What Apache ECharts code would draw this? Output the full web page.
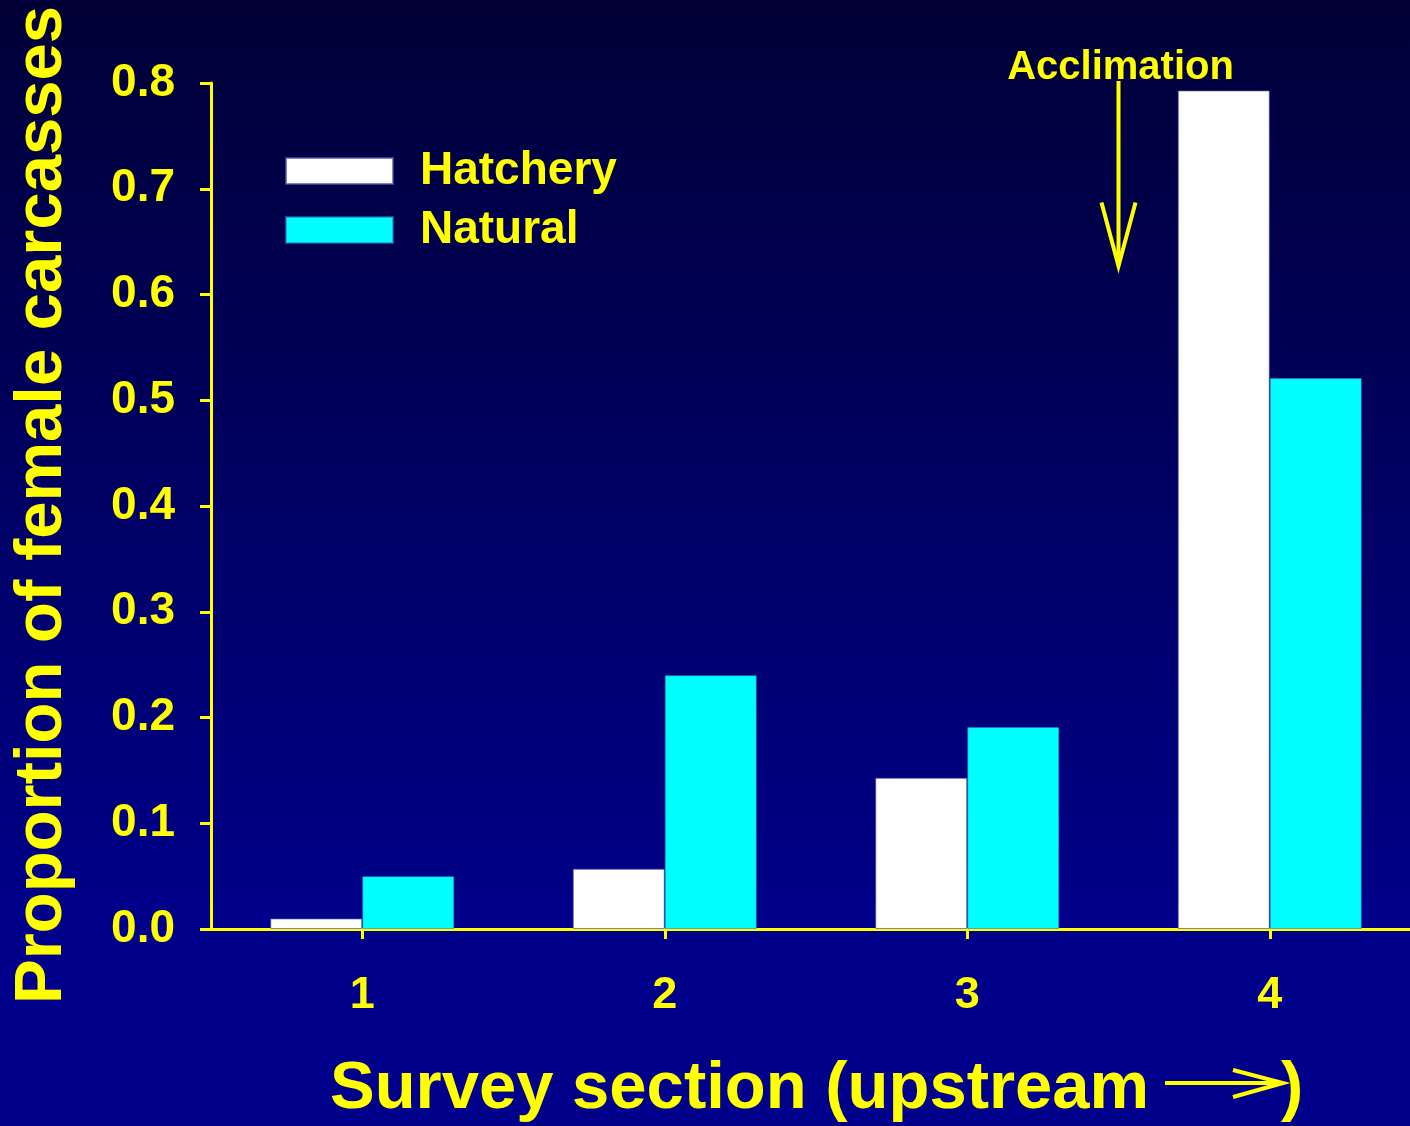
<!DOCTYPE html>
<html>
<head>
<meta charset="utf-8">
<script src="https://cdn.jsdelivr.net/npm/echarts@6/dist/echarts.min.js"></script>
<style>
html,body{margin:0;padding:0;background:#00008b;overflow:hidden;}
#main{width:1421px;height:1126px;}
</style>
</head>
<body>
<div id="main"></div>
<script>
const categories = ['1', '2', '3', '4'];
const hatchery = [0.010, 0.057, 0.143, 0.793];
const natural = [0.050, 0.240, 0.191, 0.521];
const yTicks = [0, 0.1, 0.2, 0.3, 0.4, 0.5, 0.6, 0.7, 0.8];

const YELLOW = '#FFFF00';
const FONT = '"Liberation Sans", Arial, sans-serif';

const chart = echarts.init(document.getElementById('main'), null, {renderer: 'canvas'});

const option = {
  animation: false,
  backgroundColor: {
    type: 'linear', x: 0, y: 0, x2: 0, y2: 1,
    colorStops: [
      {offset: 0, color: '#000036'},
      {offset: 0.82, color: '#00008a'},
      {offset: 1, color: '#00008b'}
    ]
  },
  grid: {left: 211, top: 83, right: 0, bottom: 197, containLabel: false},
  legend: {
    orient: 'vertical',
    left: 285,
    top: 144,
    padding: 0,
    itemWidth: 107,
    itemHeight: 26,
    itemGap: 5,
    icon: 'rect',
    textStyle: {
      color: YELLOW, fontSize: 46, fontWeight: 'bold', fontFamily: FONT,
      lineHeight: 46, padding: [8, 0, 0, 22]
    },
    data: ['Hatchery', 'Natural']
  },
  xAxis: {
    type: 'category',
    data: categories,
    axisLine: {show: true, lineStyle: {color: YELLOW, width: 3}},
    axisTick: {show: true, alignWithLabel: true, length: 10, lineStyle: {color: YELLOW, width: 3}},
    axisLabel: {color: YELLOW, fontSize: 45, fontWeight: 'bold', fontFamily: FONT, margin: 44},
    splitLine: {show: false}
  },
  yAxis: {
    type: 'value',
    min: yTicks[0],
    max: yTicks[yTicks.length - 1],
    interval: 0.1,
    axisLine: {show: true, lineStyle: {color: YELLOW, width: 3}},
    axisTick: {show: true, length: 11, lineStyle: {color: YELLOW, width: 3}},
    axisLabel: {
      color: YELLOW, fontSize: 46, fontWeight: 'bold', fontFamily: FONT, margin: 36,
      formatter: v => v.toFixed(1)
    },
    splitLine: {show: false}
  },
  series: [
    {
      name: 'Hatchery', type: 'bar', data: hatchery,
      barWidth: 92, barGap: '0%',
      itemStyle: {color: '#FFFFFF', borderColor: 'rgba(80,80,170,0.7)', borderWidth: 1}
    },
    {
      name: 'Natural', type: 'bar', data: natural,
      barWidth: 92, barGap: '0%',
      itemStyle: {color: '#00FFFF', borderColor: 'rgba(40,120,200,0.6)', borderWidth: 1}
    }
  ]
};
chart.setOption(option);

// Annotation: Acclimation arrow placed between sections 3 and 4
const p3 = chart.convertToPixel({xAxisIndex: 0}, 2);
const p4 = chart.convertToPixel({xAxisIndex: 0}, 3);
const ax = (p3 + p4) / 2;
const yTop = chart.convertToPixel({yAxisIndex: 0}, 0.8);
const yTip = chart.convertToPixel({yAxisIndex: 0}, 0.627);
const yArm = chart.convertToPixel({yAxisIndex: 0}, 0.687);

chart.setOption({
  graphic: [
    {
      type: 'text',
      x: ax + 2, y: yTop - 15,
      style: {
        text: 'Acclimation', fill: YELLOW, font: 'bold 40px ' + FONT,
        textAlign: 'center', textVerticalAlign: 'middle'
      }
    },
    {
      type: 'polyline',
      shape: {points: [[ax, yTop - 2], [ax, yTip]]},
      style: {stroke: YELLOW, lineWidth: 4, fill: null}
    },
    {
      type: 'polyline',
      shape: {points: [[ax - 17, yArm], [ax, yTip], [ax + 17, yArm]]},
      style: {stroke: YELLOW, lineWidth: 4, fill: null, lineJoin: 'miter'}
    },
    {
      type: 'text',
      x: 43, y: 505, rotation: Math.PI / 2,
      style: {
        text: 'Proportion of female carcasses', fill: YELLOW, font: 'bold 67px ' + FONT,
        textAlign: 'center', textVerticalAlign: 'middle'
      }
    },
    {
      type: 'text',
      x: 330, y: 1090,
      style: {
        text: 'Survey section (upstream', fill: YELLOW, font: 'bold 67px ' + FONT,
        textAlign: 'left', textVerticalAlign: 'middle'
      }
    },
    {
      type: 'polyline',
      shape: {points: [[1165, 1083], [1283, 1083]]},
      style: {stroke: YELLOW, lineWidth: 4, fill: null}
    },
    {
      type: 'polyline',
      shape: {points: [[1233, 1070], [1283, 1083], [1233, 1097]]},
      style: {stroke: YELLOW, lineWidth: 4, fill: null}
    },
    {
      type: 'text',
      x: 1281, y: 1090,
      style: {
        text: ')', fill: YELLOW, font: 'bold 67px ' + FONT,
        textAlign: 'left', textVerticalAlign: 'middle'
      }
    }
  ]
});
</script>
</body>
</html>
